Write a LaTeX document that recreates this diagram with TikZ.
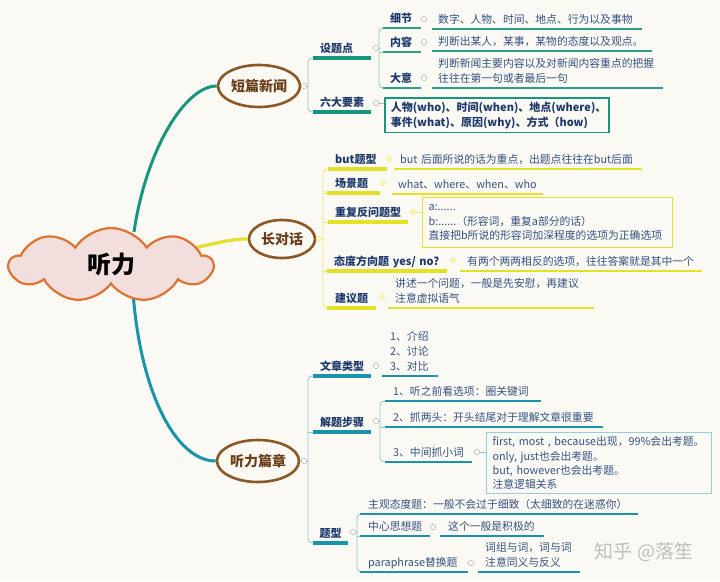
\documentclass[tikz,border=0pt]{standalone}
\usepackage{fontspec}
\setmainfont{Noto Sans CJK SC}
\usetikzlibrary{shapes.symbols,shapes.geometric}
\definecolor{bgc}{RGB}{251,249,243}
\definecolor{tb}{RGB}{30,58,108}
\definecolor{dc}{RGB}{52,82,130}
\definecolor{tealA}{RGB}{22,150,125}
\definecolor{tealC}{RGB}{25,148,168}
\definecolor{yel}{RGB}{228,226,40}
\definecolor{brn}{RGB}{140,88,38}
\definecolor{brntx}{RGB}{105,62,25}
\definecolor{cloudf}{RGB}{242,222,220}
\definecolor{cloudd}{RGB}{224,115,50}
\newcommand\mytf{\fontsize{11}{15}\selectfont\bfseries}
\newcommand\mydf{\fontsize{10.8}{14.6}\selectfont}
\tikzset{
  ulA/.style={line width=3.2pt, draw=tealA},
  uliA/.style={line width=1.8pt, draw=tealA!90},
  brA/.style={line width=0.8pt, draw=tealA!50, rounded corners=4pt},
  ulB/.style={line width=3.2pt, draw=yel},
  uliB/.style={line width=1.8pt, draw=yel},
  brB/.style={line width=0.8pt, draw=yel!70, rounded corners=4pt},
  ulC/.style={line width=3.2pt, draw=tealC},
  uliC/.style={line width=1.8pt, draw=tealC},
  brC/.style={line width=0.8pt, draw=tealC!50, rounded corners=4pt},
  dotn/.style={circle, draw=gray!50, fill=bgc, line width=0.6pt, minimum size=5.5pt, inner sep=0pt},
  doty/.style={circle, draw=yel!45, fill=yel!30, line width=0.6pt, minimum size=5.5pt, inner sep=0pt},
  lvone/.style={ellipse, draw=brn, line width=2.6pt, fill=bgc, text=brntx, font=\fontsize{14}{16}\selectfont\bfseries, inner sep=0pt},
  tp/.style={anchor=south west, inner ysep=4pt, text depth=1.5pt, align=left, font=\mytf, text=tb},
  tq/.style={anchor=south west, inner ysep=4pt, text depth=1.5pt, align=left, font=\mydf, text=dc},
  dt/.style={anchor=south west, inner ysep=4pt, text depth=1.5pt, align=left, font=\mydf, text=dc},
  dtm/.style={anchor=south west, inner ysep=4.5pt, align=left, font=\mydf, text=dc},
  bx/.style={anchor=north west, inner xsep=6pt, inner ysep=2pt, align=left, fill=bgc},
  cA/.style={line width=3pt, draw=tealA},
  cB/.style={line width=3.2pt, draw=yel},
  cC/.style={line width=3pt, draw=tealC},
}
\begin{document}
\begin{tikzpicture}[x=1pt,y=-1pt]
\path[use as bounding box, fill=bgc] (0,0) rectangle (720,581);

% level-one ellipses
\node[lvone, minimum width=82pt, minimum height=42pt] (A) at (259,86) {短篇新闻};
\node[lvone, minimum width=66pt, minimum height=38pt] (B) at (282,239) {长对话};
\node[lvone, minimum width=82pt, minimum height=42pt] (C) at (258,461) {听力篇章};

% connectors from the root (start under the cloud)
\coordinate (rA) at (134,232);
\coordinate (rB) at (195,248);
\coordinate (rC) at (133,292);
\draw[cA] (rA) .. controls (146,150) and (185,86) .. (A.west);
\draw[cB] (rB) .. controls (220,242) and (232,239) .. (B.west);
\draw[cC] (rC) .. controls (140,390) and (175,461) .. (C.west);

% root cloud
\node[cloud, cloud puffs=9, cloud puff arc=115, aspect=2.7, draw=cloudd, fill=cloudf, line width=2.2pt,
      minimum width=203pt, minimum height=74pt, font=\fontsize{24}{26}\selectfont\bfseries] (root) at (111,265) {听力};

% ================= branch A
\node[dotn] (Ac) at (304,86) {};
\coordinate (Ab) at (308,86);
\node[tp, inner xsep=7pt, text width=44pt] (A1) at (313,58) {设题点};
\node[tp, inner xsep=7pt, text width=44pt] (A2) at (313,112) {六大要素};
\draw[brA] (Ac) -- (Ab);
\draw[brA] (A1.south west) -| (Ab) |- (A2.south west);
\draw[ulA] (A1.south west) -- (A1.south east);
\draw[ulA] (A2.south west) -- (A2.south east);

\node[dotn] (A1c) at (376,48) {};
\coordinate (A1b) at (379,48);
\node[tp, inner xsep=7pt, text width=24pt] (A11) at (383,28) {细节};
\node[tp, inner xsep=7pt, text width=24pt] (A12) at (383,52) {内容};
\node[tp, inner xsep=7pt, text width=24pt] (A13) at (383,88) {大意};
\draw[brA] (A1c) -- (A1b);
\draw[brA] (A11.south west) -| (A1b) |- (A13.south west);
\draw[brA] (A1b |- A12.south west) -- (A12.south west);
\foreach \n in {A11,A12,A13} {\draw[uliA] (\n.south west) -- (\n.south east);}
\node[dotn] (A11c) at (424,19) {};
\node[dotn] (A12c) at (424,42) {};
\node[dotn] (A13c) at (424,78) {};
\node[dt, inner xsep=6pt, text width=198pt] (A11d) at (432,29) {数字、人物、时间、地点、行为以及事物};
\node[dt, inner xsep=6pt, text width=208pt] (A12d) at (432,51) {判断出某人，某事，某物的态度以及观点。};
\node[dtm, inner xsep=6pt, text width=219pt] (A13d) at (432,88) {判断新闻主要内容以及对新闻内容重点的把握\\往往在第一句或者最后一句};
\foreach \n in {A11d,A12d,A13d} {\draw[uliA] (\n.south west) -- (\n.south east);}

\node[dotn] (A2c) at (376,103) {};
\node[bx, draw=tealA, line width=1.6pt, inner ysep=4pt, text width=212pt, font=\mytf, text=tb] (A2d) at (384,97)
  {人物(who)、时间(when)、地点(where)、\\事件(what)、原因(why)、方式（how)};
\draw[brA] (A2c) -- (A2c -| A2d.west);

% ================= branch B
\node[doty] (Bc) at (319,239) {};
\coordinate (Bb) at (323,239);
\node[tp, inner xsep=7pt, text width=45pt] (B1) at (328,169) {but题型};
\node[tp, inner xsep=8pt, text width=37pt] (B2) at (327,193) {场景题};
\node[tp, inner xsep=7pt, text width=66pt] (B3) at (328,222) {重复反问题型};
\node[tp, inner xsep=7pt, text width=106pt] (B4) at (327,271) {\mbox{态度方向题 yes/ no?}};
\node[tp, inner xsep=8pt, text width=33pt] (B5) at (327,308) {建议题};
\draw[brB] (Bc) -- (Bb);
\draw[brB] (B1.south west) -| (Bb) |- (B5.south west);
\foreach \n in {B2,B3,B4} {\draw[brB] (Bb |- \n.south west) -- (\n.south west);}
\foreach \n in {B1,B2,B3,B4,B5} {\draw[ulB] (\n.south west) -- (\n.south east);}
\node[doty] (B1c) at (389,159) {};
\node[doty] (B2c) at (383,183) {};
\node[doty] (B3c) at (413,212) {};
\node[doty] (B4c) at (453,260) {};
\node[doty] (B5c) at (382,297) {};
\node[dt, inner xsep=6pt, text width=236pt] (B1d) at (394,169) {but 后面所说的话为重点，出题点往往在but后面};
\node[dt, inner xsep=6pt, text width=139pt] (B2d) at (392,194) {what、where、when、who};
\node[bx, draw=yel, line width=1.3pt, text width=238pt, minimum height=50pt, font=\mydf, text=dc] (B3d) at (422,197)
  {a:......\\b:......（形容词，重复a部分的话）\\直接把b所说的形容词加深程度的选项为正确选项};
\node[dt, inner xsep=7pt, text width=228pt] (B4d) at (460,271) {有两个两两相反的选项，往往答案就是其中一个};
\node[dtm, inner xsep=7pt, text width=192pt] (B5d) at (388,308) {讲述一个问题，一般是先安慰，再建议\\注意虚拟语气};
\foreach \n in {B1d,B2d,B4d,B5d} {\draw[uliB] (\n.south west) -- (\n.south east);}
\draw[brB] (B3c) -- (B3c -| B3d.west);

% ================= branch C
\node[dotn] (Cc) at (304,461) {};
\coordinate (Cb) at (308,461);
\node[tp, inner xsep=7pt, text width=44pt] (C1) at (313,376) {文章类型};
\node[tp, inner xsep=7pt, text width=44pt] (C2) at (313,432) {解题步骤};
\node[tp, inner xsep=6.5pt, text width=22pt] (C3) at (313,543) {题型};
\draw[brC] (Cc) -- (Cb);
\draw[brC] (C1.south west) -| (Cb) |- (C3.south west);
\draw[brC] (Cb |- C2.south west) -- (C2.south west);
\foreach \n in {C1,C2,C3} {\draw[ulC] (\n.south west) -- (\n.south east);}

\node[dotn] (C1c) at (376,366) {};
\node[dtm, inner xsep=8pt, text width=40pt, font=\fontsize{10.8}{15}\selectfont] (C1d) at (382,376) {1、介绍\\2、讨论\\3、对比};
\draw[uliC] (C1d.south west) -- (C1d.south east);

\node[dotn] (C2c) at (376,421) {};
\coordinate (C2b) at (380,421);
\node[tq, inner xsep=8pt, text width=140pt] (C21) at (385,401) {1、听之前看选项：圈关键词};
\node[tq, inner xsep=8pt, text width=202pt] (C22) at (385,427) {2、抓两头：开头结尾对于理解文章很重要};
\node[tq, inner xsep=8pt, text width=71pt] (C23) at (385,462) {3、中间抓小词};
\draw[brC] (C2c) -- (C2b);
\draw[brC] (C21.south west) -| (C2b) |- (C23.south west);
\draw[brC] (C2b |- C22.south west) -- (C22.south west);
\foreach \n in {C21,C22,C23} {\draw[uliC] (\n.south west) -- (\n.south east);}
\node[dotn] (C23c) at (477,452) {};
\node[bx, draw=tealC!45, line width=1.2pt, text width=213pt, minimum height=61pt, font=\fontsize{10.8}{14.3}\selectfont, text=dc] (C23d) at (486,432)
  {first, most , because出现，99\%会出考题。\\only, just也会出考题。\\but, however也会出考题。\\注意逻辑关系};
\draw[brC] (C23c) -- (C23c -| C23d.west);

\node[dotn] (C3c) at (353,532) {};
\coordinate (C3b) at (357,532);
\node[tq, inner xsep=8pt, text width=262pt] (C31) at (360,514) {主观态度题：一般不会过于细致（太细致的在迷惑你）};
\node[tq, inner xsep=8pt, text width=54pt] (C32) at (360,536) {中心思想题};
\node[tq, inner xsep=8pt, text width=92pt] (C33) at (360,572) {paraphrase替换题};
\draw[brC] (C3c) -- (C3b);
\draw[brC] (C31.south west) -| (C3b) |- (C33.south west);
\draw[brC] (C3b |- C32.south west) -- (C32.south west);
\foreach \n in {C31,C32,C33} {\draw[uliC] (\n.south west) -- (\n.south east);}
\node[dotn] (C32c) at (433,527) {};
\node[dotn] (C33c) at (471,563) {};
\node[dt, inner xsep=8pt, text width=88pt] (C32d) at (440,536) {这个一般是积极的};
\node[dtm, inner xsep=7pt, text width=88pt] (C33d) at (478,572) {词组与词，词与词\\注意同义与反义};
\foreach \n in {C32d,C33d} {\draw[uliC] (\n.south west) -- (\n.south east);}

% watermark
\node[text=gray!50, font=\fontsize{19}{21}\selectfont, inner sep=0pt] (wm) at (644,552) {知乎 @落笙};
\end{tikzpicture}
\end{document}
